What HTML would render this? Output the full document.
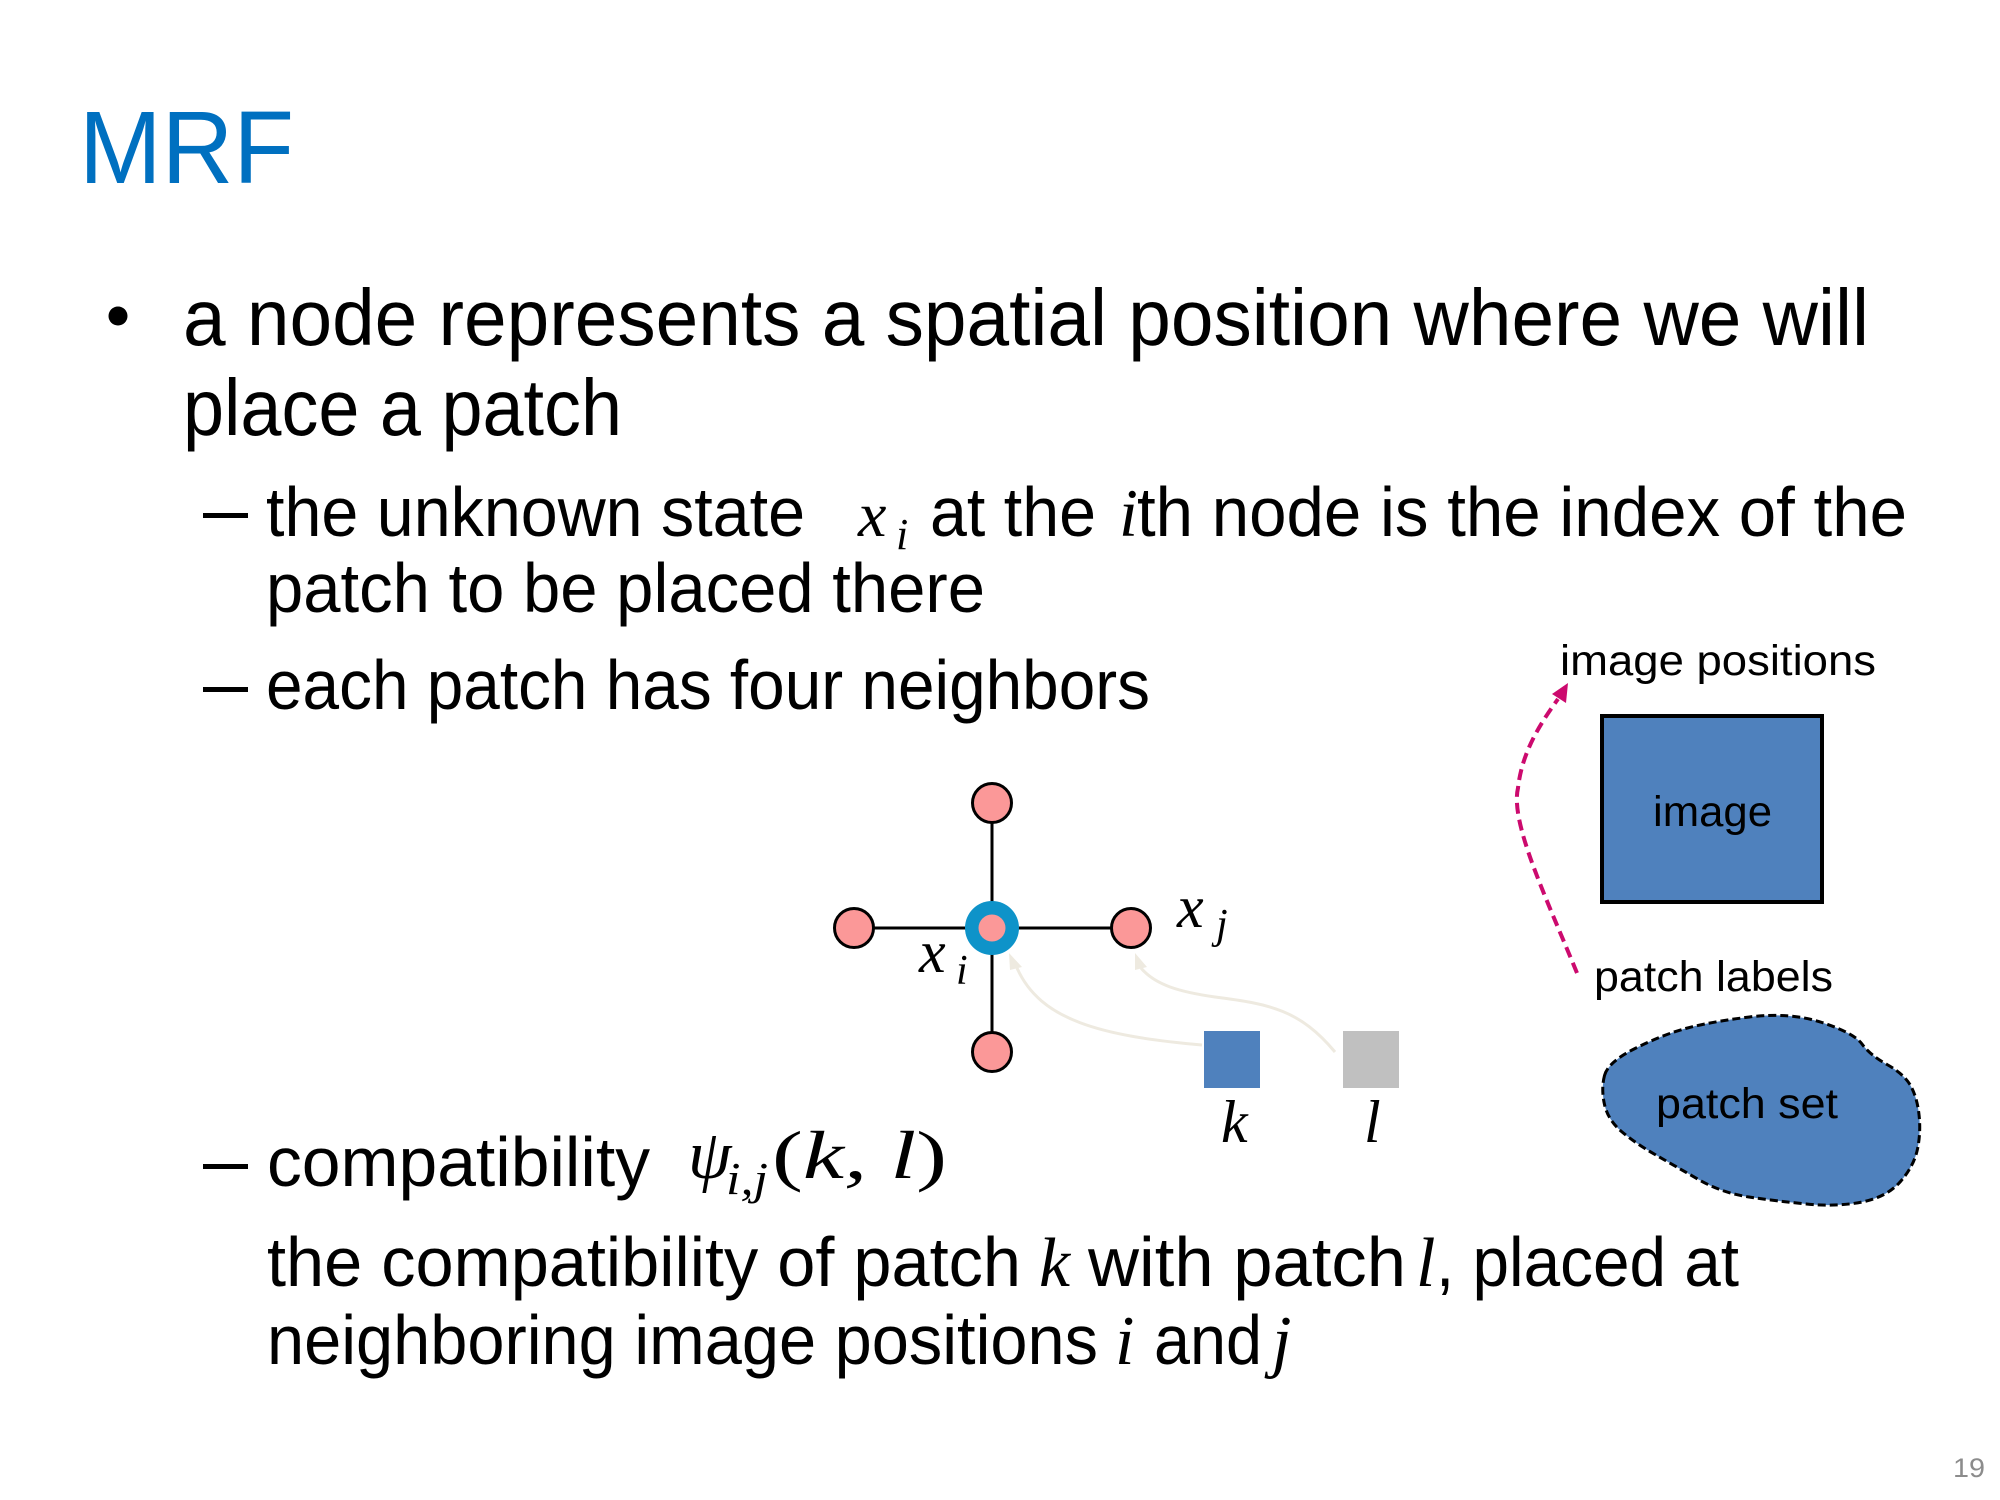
<!DOCTYPE html>
<html>
<head>
<meta charset="utf-8">
<style>
html,body{margin:0;padding:0;background:#fff;}
svg{display:block;}
.s{font-family:"Liberation Sans",Arial,sans-serif;fill:#000;}
.m{font-family:"Liberation Serif","DejaVu Serif",serif;font-style:italic;fill:#000;}
</style>
</head>
<body>
<svg width="2000" height="1500" viewBox="0 0 2000 1500" xmlns="http://www.w3.org/2000/svg">
<rect x="0" y="0" width="2000" height="1500" fill="#fff"/>

<!-- Title -->
<text class="s" x="79" y="183" font-size="103" style="fill:#0070C0" textLength="215" lengthAdjust="spacingAndGlyphs">MRF</text>

<!-- Bullet 1 -->
<circle cx="118" cy="316" r="9.5" fill="#000"/>
<text class="s" x="183" y="345" font-size="80" textLength="1686" lengthAdjust="spacingAndGlyphs">a node represents a spatial position where we will</text>
<text class="s" x="183" y="435" font-size="80" textLength="439" lengthAdjust="spacingAndGlyphs">place a patch</text>

<!-- Sub bullet 1 -->
<rect x="203" y="513" width="45" height="5" fill="#000"/>
<text class="s" x="266" y="536" font-size="70" textLength="539" lengthAdjust="spacingAndGlyphs">the unknown state</text>
<text class="m" x="858" y="536" font-size="64">x</text>
<text class="m" x="896" y="549" font-size="44">i</text>
<text class="s" x="930" y="536" font-size="70" textLength="166" lengthAdjust="spacingAndGlyphs">at the</text>
<text class="m" x="1119" y="536" font-size="68">i</text>
<text class="s" x="1137" y="536" font-size="70" textLength="770" lengthAdjust="spacingAndGlyphs">th node is the index of the</text>
<text class="s" x="266" y="612" font-size="70" textLength="719" lengthAdjust="spacingAndGlyphs">patch to be placed there</text>

<!-- Sub bullet 2 -->
<rect x="203" y="687" width="45" height="5" fill="#000"/>
<text class="s" x="266" y="709" font-size="70" textLength="884" lengthAdjust="spacingAndGlyphs">each patch has four neighbors</text>

<!-- Sub bullet 3 -->
<rect x="203" y="1164" width="45" height="5" fill="#000"/>
<text class="s" x="267" y="1186" font-size="70" textLength="383" lengthAdjust="spacingAndGlyphs">compatibility</text>
<text class="m" x="688" y="1178" font-size="70">ψ</text>
<text class="m" x="726" y="1194" font-size="46" textLength="42" lengthAdjust="spacingAndGlyphs">i,j</text>
<text class="m" x="772" y="1178" font-size="68" textLength="175" lengthAdjust="spacingAndGlyphs"><tspan font-style="normal">(</tspan>k, l<tspan font-style="normal">)</tspan></text>

<text class="s" x="267" y="1286" font-size="70" textLength="754" lengthAdjust="spacingAndGlyphs">the compatibility of patch</text>
<text class="m" x="1039" y="1286" font-size="70">k</text>
<text class="s" x="1088" y="1286" font-size="70" textLength="318" lengthAdjust="spacingAndGlyphs">with patch</text>
<text class="m" x="1416" y="1286" font-size="70">l</text>
<text class="s" x="1436" y="1286" font-size="70" textLength="303" lengthAdjust="spacingAndGlyphs">, placed at</text>

<text class="s" x="267" y="1364" font-size="70" textLength="831" lengthAdjust="spacingAndGlyphs">neighboring image positions</text>
<text class="m" x="1115" y="1364" font-size="70">i</text>
<text class="s" x="1154" y="1364" font-size="70" textLength="108" lengthAdjust="spacingAndGlyphs">and</text>
<text class="m" x="1272" y="1364" font-size="70">j</text>

<!-- Star graph -->
<line x1="992" y1="803" x2="992" y2="1052" stroke="#000" stroke-width="3"/>
<line x1="854" y1="928" x2="1132" y2="928" stroke="#000" stroke-width="3"/>
<g fill="#FB9898" stroke="#000" stroke-width="3">
  <circle cx="992" cy="803" r="19.5"/>
  <circle cx="992" cy="1052" r="19.5"/>
  <circle cx="854" cy="928" r="19.5"/>
  <circle cx="1131" cy="928" r="19.5"/>
</g>
<circle cx="992" cy="928" r="27" fill="#0E93C9"/>
<circle cx="992" cy="928" r="13.5" fill="#FB9898"/>

<!-- faint arrows -->
<g fill="none" stroke="#EEEAE0" stroke-width="3">
  <path d="M1202,1045 C1100,1036 1040,1020 1017,968"/>
  <path d="M1335,1052 C1300,1010 1270,1004 1215,997 C1180,992 1155,985 1141,968"/>
</g>
<polygon points="1009,953 1022,967 1010,970" fill="#EEEAE0"/>
<polygon points="1135,953 1147,967 1135,970" fill="#EEEAE0"/>

<!-- labels in graph -->
<text class="m" x="919" y="972" font-size="60">x</text>
<text class="m" x="956" y="984" font-size="42">i</text>
<text class="m" x="1177" y="927" font-size="60">x</text>
<text class="m" x="1216" y="938" font-size="42">j</text>

<!-- k and l patches -->
<rect x="1204" y="1031" width="56" height="57" fill="#4F81BD"/>
<rect x="1343" y="1031" width="56" height="57" fill="#C0C0C0"/>
<text class="m" x="1221" y="1142" font-size="60">k</text>
<text class="m" x="1364" y="1142" font-size="60">l</text>

<!-- Right panel -->
<text class="s" x="1560" y="675" font-size="43" textLength="316" lengthAdjust="spacingAndGlyphs">image positions</text>
<rect x="1602" y="716" width="220" height="186" fill="#4F81BD" stroke="#000" stroke-width="4"/>
<text class="s" x="1653" y="826" font-size="43" textLength="119" lengthAdjust="spacingAndGlyphs">image</text>
<text class="s" x="1594" y="991" font-size="43" textLength="239" lengthAdjust="spacingAndGlyphs">patch labels</text>

<!-- magenta dashed arrow -->
<path d="M1577,973 C1545,895 1510,822 1518,788 C1522,752 1540,724 1558,699" fill="none" stroke="#CC0A6E" stroke-width="4" stroke-dasharray="11,6"/>
<polygon points="1568,683 1552,694 1566,703" fill="#CC0A6E"/>

<!-- patch set blob -->
<path d="M1604.5,1075.5 Q1608,1062 1635,1048.5 Q1662,1035 1685.5,1028.5 Q1709,1022 1749.5,1017 Q1790,1012 1822,1022.5 Q1854,1033 1862,1044 Q1870,1055 1887,1064.5 Q1904,1074 1910.5,1085.5 Q1917,1097 1919,1114.5 Q1921,1132 1917.5,1149 Q1914,1166 1900.5,1181.5 Q1887,1197 1862,1202 Q1837,1207 1806.5,1204 Q1776,1201 1749,1197 Q1722,1193 1698.5,1179.5 Q1675,1166 1655,1154.5 Q1635,1143 1621.5,1131.5 Q1608,1120 1604.5,1104.5 Q1601,1089 1604.5,1075.5 Z" fill="#4F81BD" stroke="#000" stroke-width="3" stroke-dasharray="8,4"/>
<text class="s" x="1656" y="1118" font-size="43" textLength="182" lengthAdjust="spacingAndGlyphs">patch set</text>

<!-- page number -->
<text class="s" x="1953" y="1477" font-size="27" style="fill:#8C8C8C" textLength="32" lengthAdjust="spacingAndGlyphs">19</text>
</svg>
</body>
</html>
